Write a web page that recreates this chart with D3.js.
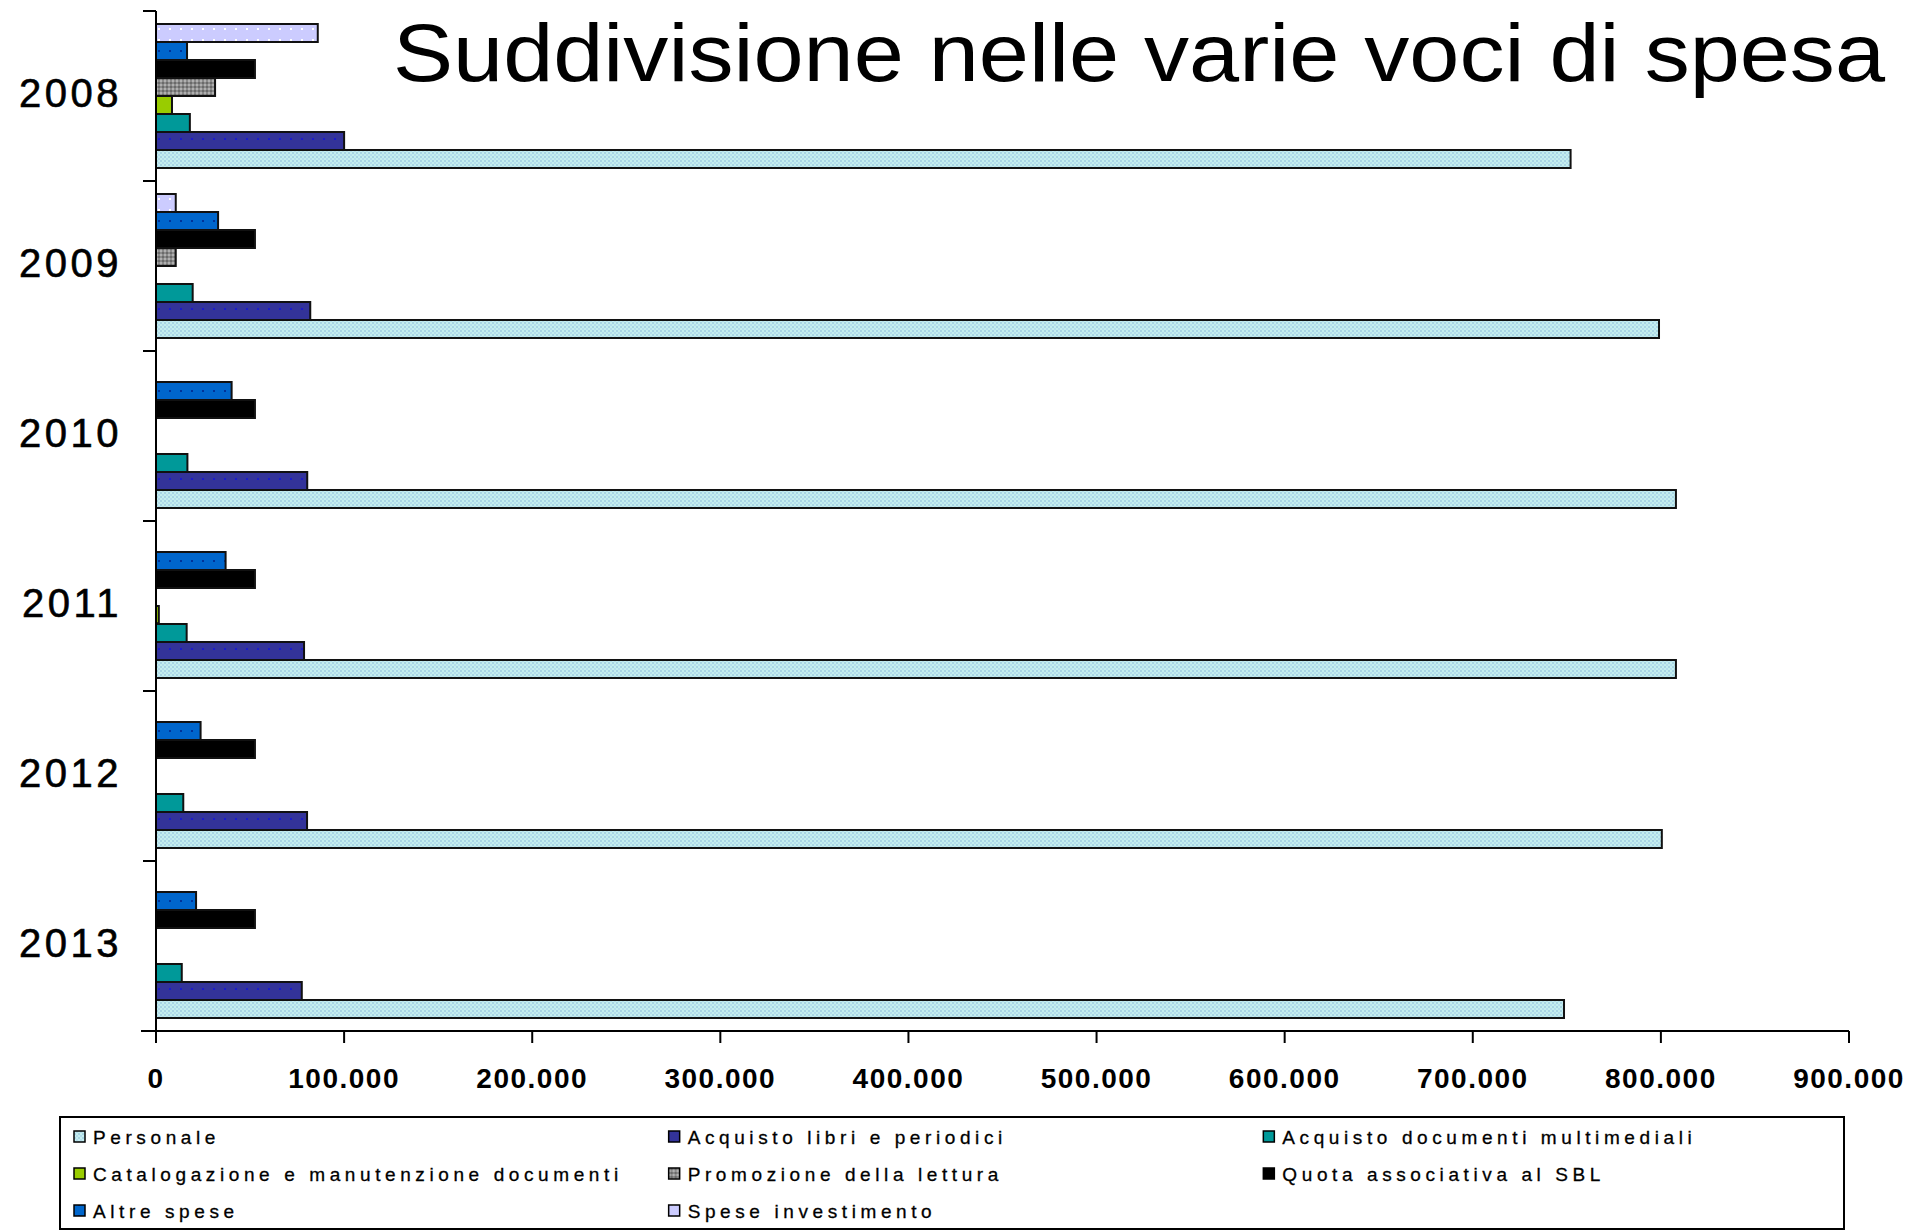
<!DOCTYPE html>
<html>
<head>
<meta charset="utf-8">
<script src="https://cdn.jsdelivr.net/npm/d3@7"></script>
<style>
	html, body { margin: 0; padding: 0; background: #fff; }
	svg { display: block; font-family: "Liberation Sans", Arial, sans-serif; }
</style>
</head>
<body>
<div id="chart"></div>
<script>
// anni (categorie) e voci di spesa
var years = ['2008', '2009', '2010', '2011', '2012', '2013'];
var seriesNames = [
	'Personale',
	'Acquisto libri e periodici',
	'Acquisto documenti multimediali',
	'Catalogazione e manutenzione documenti',
	'Promozione della lettura',
	'Quota associativa al SBL',
	'Altre spese',
	'Spese investimento'
];

// valori (euro)
var personale = [752000, 799000, 808000, 808000, 800500, 748500];
var acquistoLibri = [100000, 82000, 80400, 78700, 80300, 77500];
var acquistoMultimediali = [18000, 19500, 16700, 16300, 14500, 13700];
var catalogazione = [8500, 0, 0, 1500, 0, 0];
var promozione = [31400, 10500, 0, 0, 0, 0];
var quotaSBL = [52600, 52600, 52600, 52600, 52600, 52600];
var altreSpese = [16500, 33000, 40200, 37000, 23700, 21300];
var speseInvestimento = [86000, 10500, 0, 0, 0, 0];

var xTicks = [0, 100000, 200000, 300000, 400000, 500000, 600000, 700000, 800000, 900000];

var seriesValues = [personale, acquistoLibri, acquistoMultimediali, catalogazione,
	promozione, quotaSBL, altreSpese, speseInvestimento];

var settings = {
	width: 1928,
	height: 1231,
	plotLeft: 156,
	plotRight: 1849,
	plotTop: 11,
	plotBottom: 1031,
	legendLeft: 60,
	legendRight: 1844,
	legendTop: 1117,
	legendBottom: 1229
};

var fills = ['url(#p-personale)', 'url(#p-libri)', '#009999', '#99cc00',
	'url(#p-promozione)', '#000000', 'url(#p-altre)', 'url(#p-investimento)'];

var itFormat = d3.formatLocale({ decimal: ',', thousands: '.', grouping: [3], currency: ['', ''] }).format(',');

var svg = d3.select('#chart').append('svg')
	.attr('width', settings.width)
	.attr('height', settings.height);

// pattern per i riempimenti puntinati
var defs = svg.append('defs');

function dotPattern(id, size, bg, dots) {
	var p = defs.append('pattern')
		.attr('id', id)
		.attr('patternUnits', 'userSpaceOnUse')
		.attr('width', size)
		.attr('height', size);
	p.append('rect').attr('width', size).attr('height', size).attr('fill', bg);
	dots.forEach(function(d) {
		p.append('rect')
			.attr('x', d[0]).attr('y', d[1])
			.attr('width', d[2]).attr('height', d[2])
			.attr('fill', d[3]);
	});
}

dotPattern('p-personale', 4, '#c4eeee', [[0, 0, 2, '#a8d4e4'], [2, 2, 2, '#b4dcec']]);
dotPattern('p-libri', 11, '#333399', [[4, 4, 2, '#1a1acc']]);
dotPattern('p-altre', 11, '#0066cc', [[4, 4, 2, '#003399']]);
dotPattern('p-investimento', 11, '#ccccff', [[4, 4, 2, '#ffffff']]);
dotPattern('p-promozione', 4, '#8a8a8a', [[0, 0, 2, '#b0b0b0'], [2, 2, 2, '#6a6a6a']]);

var x = d3.scaleLinear()
	.domain([0, 900000])
	.range([settings.plotLeft, settings.plotRight]);

var y = d3.scaleBand()
	.domain(years)
	.range([settings.plotTop, settings.plotBottom])
	.paddingInner(0.153)
	.paddingOuter(0.0765);

// Personale in basso, Spese investimento in alto
var yInner = d3.scaleBand()
	.domain(d3.range(seriesNames.length).reverse())
	.range([0, y.bandwidth()]);

// barre
var groups = svg.append('g').selectAll('g')
	.data(years)
	.enter()
	.append('g')
	.attr('transform', function(d) { return 'translate(0,' + y(d) + ')'; });

groups.selectAll('rect')
	.data(function(year, yi) {
		return seriesValues.map(function(vals, si) { return { s: si, v: vals[yi] }; });
	})
	.enter()
	.append('rect')
	.attr('x', x(0))
	.attr('y', function(d) { return yInner(d.s); })
	.attr('width', function(d) { return x(d.v) - x(0); })
	.attr('height', yInner.bandwidth())
	.attr('fill', function(d) { return fills[d.s]; })
	.attr('stroke', '#111')
	.attr('stroke-width', 2);

// asse y con tacche ai confini delle categorie
var step = y.step();
var yAxis = svg.append('g');
yAxis.append('line')
	.attr('x1', x(0)).attr('x2', x(0))
	.attr('y1', settings.plotTop).attr('y2', settings.plotBottom)
	.attr('stroke', '#000').attr('stroke-width', 2);

yAxis.selectAll('line.tick')
	.data(d3.range(years.length + 1))
	.enter()
	.append('line')
	.attr('class', 'tick')
	.attr('x1', x(0) - 13).attr('x2', x(0))
	.attr('y1', function(i) { return settings.plotTop + i * step; })
	.attr('y2', function(i) { return settings.plotTop + i * step; })
	.attr('stroke', '#000').attr('stroke-width', 2);

yAxis.selectAll('text')
	.data(years)
	.enter()
	.append('text')
	.attr('x', 122)
	.attr('y', function(d) { return y(d) - y.step() * y.paddingOuter() + step / 2 + 11; })
	.attr('text-anchor', 'end')
	.attr('font-size', 40)
	.attr('letter-spacing', 3.5)
	.attr('stroke', '#000')
	.attr('stroke-width', 0.6)
	.attr('fill', '#000')
	.text(function(d) { return d; });

// asse x
var xAxis = svg.append('g');
xAxis.append('line')
	.attr('x1', x(0) - 15).attr('x2', settings.plotRight)
	.attr('y1', settings.plotBottom).attr('y2', settings.plotBottom)
	.attr('stroke', '#000').attr('stroke-width', 2);

var xt = xAxis.selectAll('g.xt')
	.data(xTicks)
	.enter()
	.append('g')
	.attr('class', 'xt')
	.attr('transform', function(d) { return 'translate(' + x(d) + ',' + settings.plotBottom + ')'; });

xt.append('line')
	.attr('y1', 0).attr('y2', 12)
	.attr('stroke', '#000').attr('stroke-width', 2);

xt.append('text')
	.attr('y', 57)
	.attr('text-anchor', 'middle')
	.attr('font-size', 28)
	.attr('font-weight', 'bold')
	.attr('letter-spacing', 1.5)
	.attr('fill', '#000')
	.text(function(d) { return itFormat(d); });

// titolo
svg.append('text')
	.attr('x', 393)
	.attr('y', 81)
	.attr('font-size', 81)
	.attr('textLength', 1492)
	.attr('lengthAdjust', 'spacingAndGlyphs')
	.attr('fill', '#000')
	.text('Suddivisione nelle varie voci di spesa');

// legenda
var legend = svg.append('g');
legend.append('rect')
	.attr('x', settings.legendLeft)
	.attr('y', settings.legendTop)
	.attr('width', settings.legendRight - settings.legendLeft)
	.attr('height', settings.legendBottom - settings.legendTop)
	.attr('fill', '#fff')
	.attr('stroke', '#000')
	.attr('stroke-width', 2);

var colWidth = (settings.legendRight - settings.legendLeft) / 3,
	rowHeight = 37;

var items = legend.selectAll('g.item')
	.data(seriesNames)
	.enter()
	.append('g')
	.attr('class', 'item')
	.attr('transform', function(d, i) {
		var cx = settings.legendLeft + 14 + (i % 3) * colWidth,
			cy = settings.legendTop + 20 + Math.floor(i / 3) * rowHeight;
		return 'translate(' + cx + ',' + cy + ')';
	});

items.append('rect')
	.attr('x', 0).attr('y', -6)
	.attr('width', 11).attr('height', 11)
	.attr('fill', function(d, i) { return fills[i]; })
	.attr('stroke', '#000')
	.attr('stroke-width', 1.5);

items.append('text')
	.attr('x', 19)
	.attr('y', 7)
	.attr('font-size', 19)
	.attr('letter-spacing', 4.6)
	.attr('stroke', '#000')
	.attr('stroke-width', 0.3)
	.attr('fill', '#000')
	.text(function(d) { return d; });
</script>
</body>
</html>
